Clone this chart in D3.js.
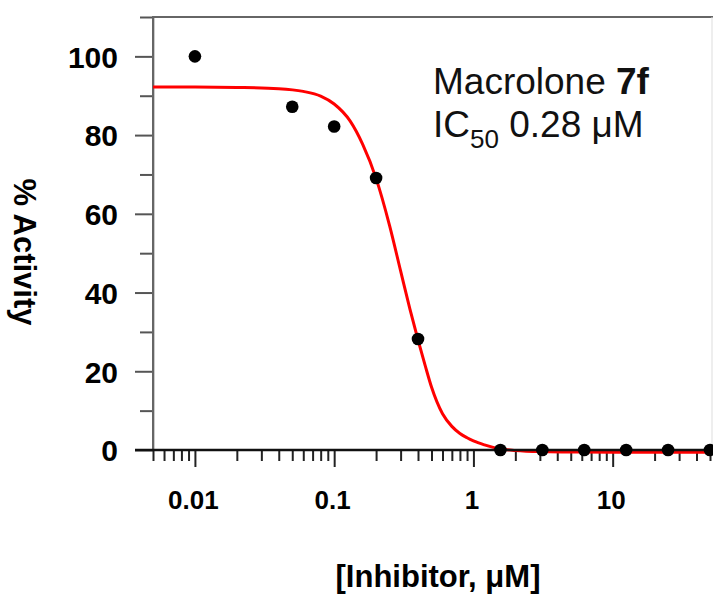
<!DOCTYPE html>
<html>
<head>
<meta charset="utf-8">
<script src="https://cdn.jsdelivr.net/npm/d3@7"></script>
<style>
  html, body { margin: 0; padding: 0; background: #fff; }
  svg { display: block; }
  text { font-family: "Liberation Sans", Arial, sans-serif; }
</style>
</head>
<body>
<svg id="chart" width="713" height="597"></svg>
<script>
// ---- data ----
const concentrations = [0.01, 0.05, 0.1, 0.2, 0.4, 1.5625, 3.125, 6.25, 12.5, 25, 50];
const activity       = [100, 87.2, 82.2, 69.1, 28.2, 0, 0, 0, 0, 0, 0];

// fitted dose-response curve
const curveX = [0.005, 0.01, 0.02, 0.04, 0.06, 0.08, 0.1, 0.13, 0.16, 0.2, 0.25, 0.3, 0.35, 0.4, 0.45, 0.5, 0.6, 0.7, 0.8, 0.9, 1.0, 1.2, 1.5, 2, 3, 5, 10, 50];
const curveY = [92.2, 92.2, 92.1, 91.8, 91.1, 89.9, 87.9, 83.6, 77.7, 69.0, 57.0, 45.5, 35.8, 28.0, 21.5, 16.0, 9.2, 6.0, 4.2, 3.1, 2.3, 1.3, 0.4, -0.1, -0.4, -0.5, -0.6, -0.6];

const xMajorTicks = [0.01, 0.1, 1, 10];
const xTickLabels = ["0.01", "0.1", "1", "10"];
const yMajorTicks = [0, 20, 40, 60, 80, 100];
const yMinorTicks = [10, 30, 50, 70, 90, 110];
const xDomain = [0.005, 50];
const yDomain = [0, 110];

const annotationName = "Macrolone ";
const annotationCompound = "7f";
const ic50Text = " 0.28 μM";
const xTitle = "[Inhibitor, μM]";
const yTitle = "% Activity";

// ---- layout ----
const svg = d3.select("#chart");
const mLeft = 153, mRight = 710, mTop = 17, mBottom = 450;

const x = d3.scaleLog().domain(xDomain).range([mLeft, mRight]);
const y = d3.scaleLinear().domain(yDomain).range([mBottom, mTop]);

// frame (top + right)
svg.append("line").attr("x1", mLeft).attr("x2", 713).attr("y1", mTop).attr("y2", mTop)
  .attr("stroke", "#666").attr("stroke-width", 2);
svg.append("line").attr("x1", 712).attr("x2", 712).attr("y1", mTop).attr("y2", mBottom)
  .attr("stroke", "#ddd").attr("stroke-width", 1);

// y axis
const yMajor = svg.append("g").attr("transform", `translate(${mLeft},0)`)
  .call(d3.axisLeft(y).tickValues(yMajorTicks).tickSize(18).tickPadding(17).tickFormat(d3.format("d")));
const yMinor = svg.append("g").attr("transform", `translate(${mLeft},0)`)
  .call(d3.axisLeft(y).tickValues(yMinorTicks).tickSize(13).tickFormat(""));
[yMajor, yMinor].forEach(g => {
  g.select(".domain").remove();
  g.selectAll(".tick line").attr("stroke", "#555").attr("stroke-width", 2);
});
yMajor.selectAll(".tick text")
  .attr("font-size", 30).attr("font-weight", "bold").attr("fill", "#000")
  .attr("dy", "0.36em");
svg.append("line").attr("x1", mLeft).attr("x2", mLeft).attr("y1", mTop - 1).attr("y2", mBottom)
  .attr("stroke", "#666").attr("stroke-width", 2);
svg.append("line").attr("x1", mLeft + 1.5).attr("x2", mLeft + 1.5).attr("y1", mTop + 1).attr("y2", mBottom)
  .attr("stroke", "#ccc").attr("stroke-width", 1);

// x axis
const minorX = x.ticks().filter(v => !xMajorTicks.some(m => Math.abs(m - v) / m < 1e-9));
const xMinorG = svg.append("g").attr("transform", `translate(0,${mBottom})`)
  .call(d3.axisBottom(x).tickValues(minorX).tickSize(11).tickFormat(""));
const xMajorG = svg.append("g").attr("transform", `translate(0,${mBottom})`)
  .call(d3.axisBottom(x).tickValues(xMajorTicks).tickSize(17).tickPadding(24)
    .tickFormat((d, i) => xTickLabels[i]));
[xMinorG, xMajorG].forEach(g => {
  g.select(".domain").remove();
  g.selectAll(".tick line").attr("stroke", "#222").attr("stroke-width", 2);
});
xMajorG.selectAll(".tick text")
  .attr("font-size", 26).attr("font-weight", "bold").attr("fill", "#000")
  .attr("dx", -2);

// fitted curve
const line = d3.line()
  .x(d => x(d[0])).y(d => y(d[1]))
  .curve(d3.curveMonotoneX);
svg.append("path")
  .datum(curveX.map((v, i) => [v, curveY[i]]))
  .attr("d", line)
  .attr("fill", "none").attr("stroke", "#ff0000").attr("stroke-width", 3);

// x axis line (on top of curve)
svg.append("line").attr("x1", 135).attr("x2", 713).attr("y1", mBottom).attr("y2", mBottom)
  .attr("stroke", "#111").attr("stroke-width", 2.5);

// points
svg.append("g").selectAll("circle")
  .data(concentrations.map((c, i) => [c, activity[i]]))
  .join("circle")
  .attr("cx", d => x(d[0])).attr("cy", d => y(d[1]))
  .attr("r", 6.3).attr("fill", "#000");

// annotation
const ann1 = svg.append("text").attr("x", 433).attr("y", 94)
  .attr("font-size", 37).attr("fill", "#111");
ann1.append("tspan").text(annotationName);
ann1.append("tspan").attr("font-weight", "bold").text(annotationCompound);

const ann2 = svg.append("text").attr("x", 433).attr("y", 137)
  .attr("font-size", 37).attr("fill", "#111");
ann2.append("tspan").text("IC");
ann2.append("tspan").attr("font-size", 26).attr("dy", 11).text("50");
ann2.append("tspan").attr("dy", -11).text(ic50Text);

// axis titles
svg.append("text")
  .attr("transform", "translate(14,252) rotate(90)")
  .attr("text-anchor", "middle")
  .attr("font-size", 31).attr("font-weight", "bold").attr("fill", "#000")
  .text(yTitle);

svg.append("text")
  .attr("x", 438).attr("y", 587)
  .attr("text-anchor", "middle")
  .attr("font-size", 31).attr("font-weight", "bold").attr("fill", "#000")
  .text(xTitle);
</script>
</body>
</html>
